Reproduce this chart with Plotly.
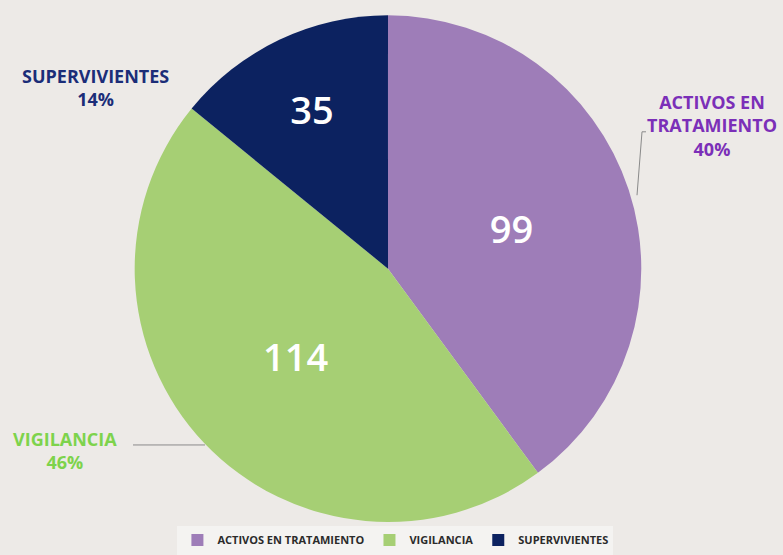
import plotly.graph_objects as go

categories = ["ACTIVOS EN TRATAMIENTO", "VIGILANCIA", "SUPERVIVIENTES"]
values = [99, 114, 35]
slice_colors = ["#9E7DB8", "#A6CF74", "#0C2260"]
label_colors = ["#7B2FB8", "#7DD34C", "#1B2D78"]
label_lines = [["ACTIVOS EN", "TRATAMIENTO"], ["VIGILANCIA"], ["SUPERVIVIENTES"]]

W, H = 783, 555
total = sum(values)
pcts = [round(v / total * 100) for v in values]

fig = go.Figure()
fig.add_trace(go.Pie(
    labels=categories,
    values=values,
    sort=False,
    direction="clockwise",
    rotation=0,
    marker=dict(colors=slice_colors, line=dict(width=0)),
    texttemplate="%{value}",
    textposition="inside",
    insidetextorientation="horizontal",
    textfont=dict(family="Open Sans", size=38, color="white", weight=600),
    domain=dict(x=[0.172, 0.819], y=[0.05, 0.973]),
    hoverinfo="label+value+percent",
    showlegend=True,
))

def px(x):
    return x / W

def py(y):
    return 1 - y / H

# outside labels (position in pixels)
label_pos = [(712, 127), (65, 455), (95, 88)]
for (lx, ly), lines, pct, col in zip(label_pos, label_lines, pcts, label_colors):
    txt = "<br>".join(lines + [f"{pct}%"])
    fig.add_annotation(
        x=px(lx), y=py(ly), xref="paper", yref="paper",
        text=txt, showarrow=False, align="center",
        font=dict(family="Open Sans", size=18, color=col, weight=700),
        xanchor="center", yanchor="middle",
    )

# leader lines
fig.add_shape(type="line", xref="paper", yref="paper",
              x0=px(133), y0=py(449), x1=px(205), y1=py(449),
              line=dict(color="#8a8a8a", width=1))
fig.add_shape(type="line", xref="paper", yref="paper",
              x0=px(646), y0=py(133), x1=px(642), y1=py(133),
              line=dict(color="#8a8a8a", width=1))
fig.add_shape(type="line", xref="paper", yref="paper",
              x0=px(642), y0=py(133), x1=px(637), y1=py(197),
              line=dict(color="#8a8a8a", width=1))

fig.update_layout(
    width=W, height=H,
    margin=dict(l=0, r=0, t=0, b=0),
    paper_bgcolor="#EDEAE7",
    plot_bgcolor="#EDEAE7",
    legend=dict(
        orientation="h", x=0.505, xanchor="center", y=py(545), yanchor="middle",
        bgcolor="#F4F3F1",
        font=dict(family="Open Sans", size=11, color="#2b2b2b", weight=700),
        itemwidth=30,
        traceorder="normal",
    ),
)

fig.write_html("out.html", config={"displayModeBar": False},
               post_script="document.body.style.margin='0';")
